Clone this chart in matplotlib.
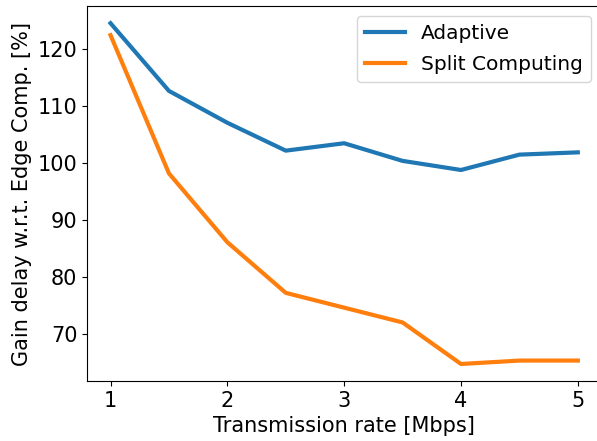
import matplotlib
matplotlib.use("Agg")
import matplotlib.pyplot as plt

rate = [1, 1.5, 2, 2.5, 3, 3.5, 4, 4.5, 5]
adaptive = [124.6, 112.7, 107.1, 102.2, 103.5, 100.4, 98.8, 101.5, 101.9]
split = [122.5, 98.2, 86.1, 77.2, 74.6, 72.0, 64.7, 65.3, 65.3]

fig, ax = plt.subplots(figsize=(5.97, 4.41), dpi=100)
# right spine is cropped off in the reference
fig.subplots_adjust(left=0.146, right=1.007, top=0.986, bottom=0.136)

ax.plot(rate, adaptive, color='#1f77b4', linewidth=3, label='Adaptive')
ax.plot(rate, split, color='#ff7f0e', linewidth=3, label='Split Computing')

ax.set_xticks([1, 2, 3, 4, 5])
ax.set_yticks([70, 80, 90, 100, 110, 120])
ax.tick_params(labelsize=15)
ax.set_xlabel('Transmission rate [Mbps]', fontsize=15)
ax.set_ylabel('Gain delay w.r.t. Edge Comp. [%]', fontsize=15)
ax.legend(loc='upper right', fontsize=14.5, labelspacing=0.6)

fig.savefig('out.png', dpi=100)
